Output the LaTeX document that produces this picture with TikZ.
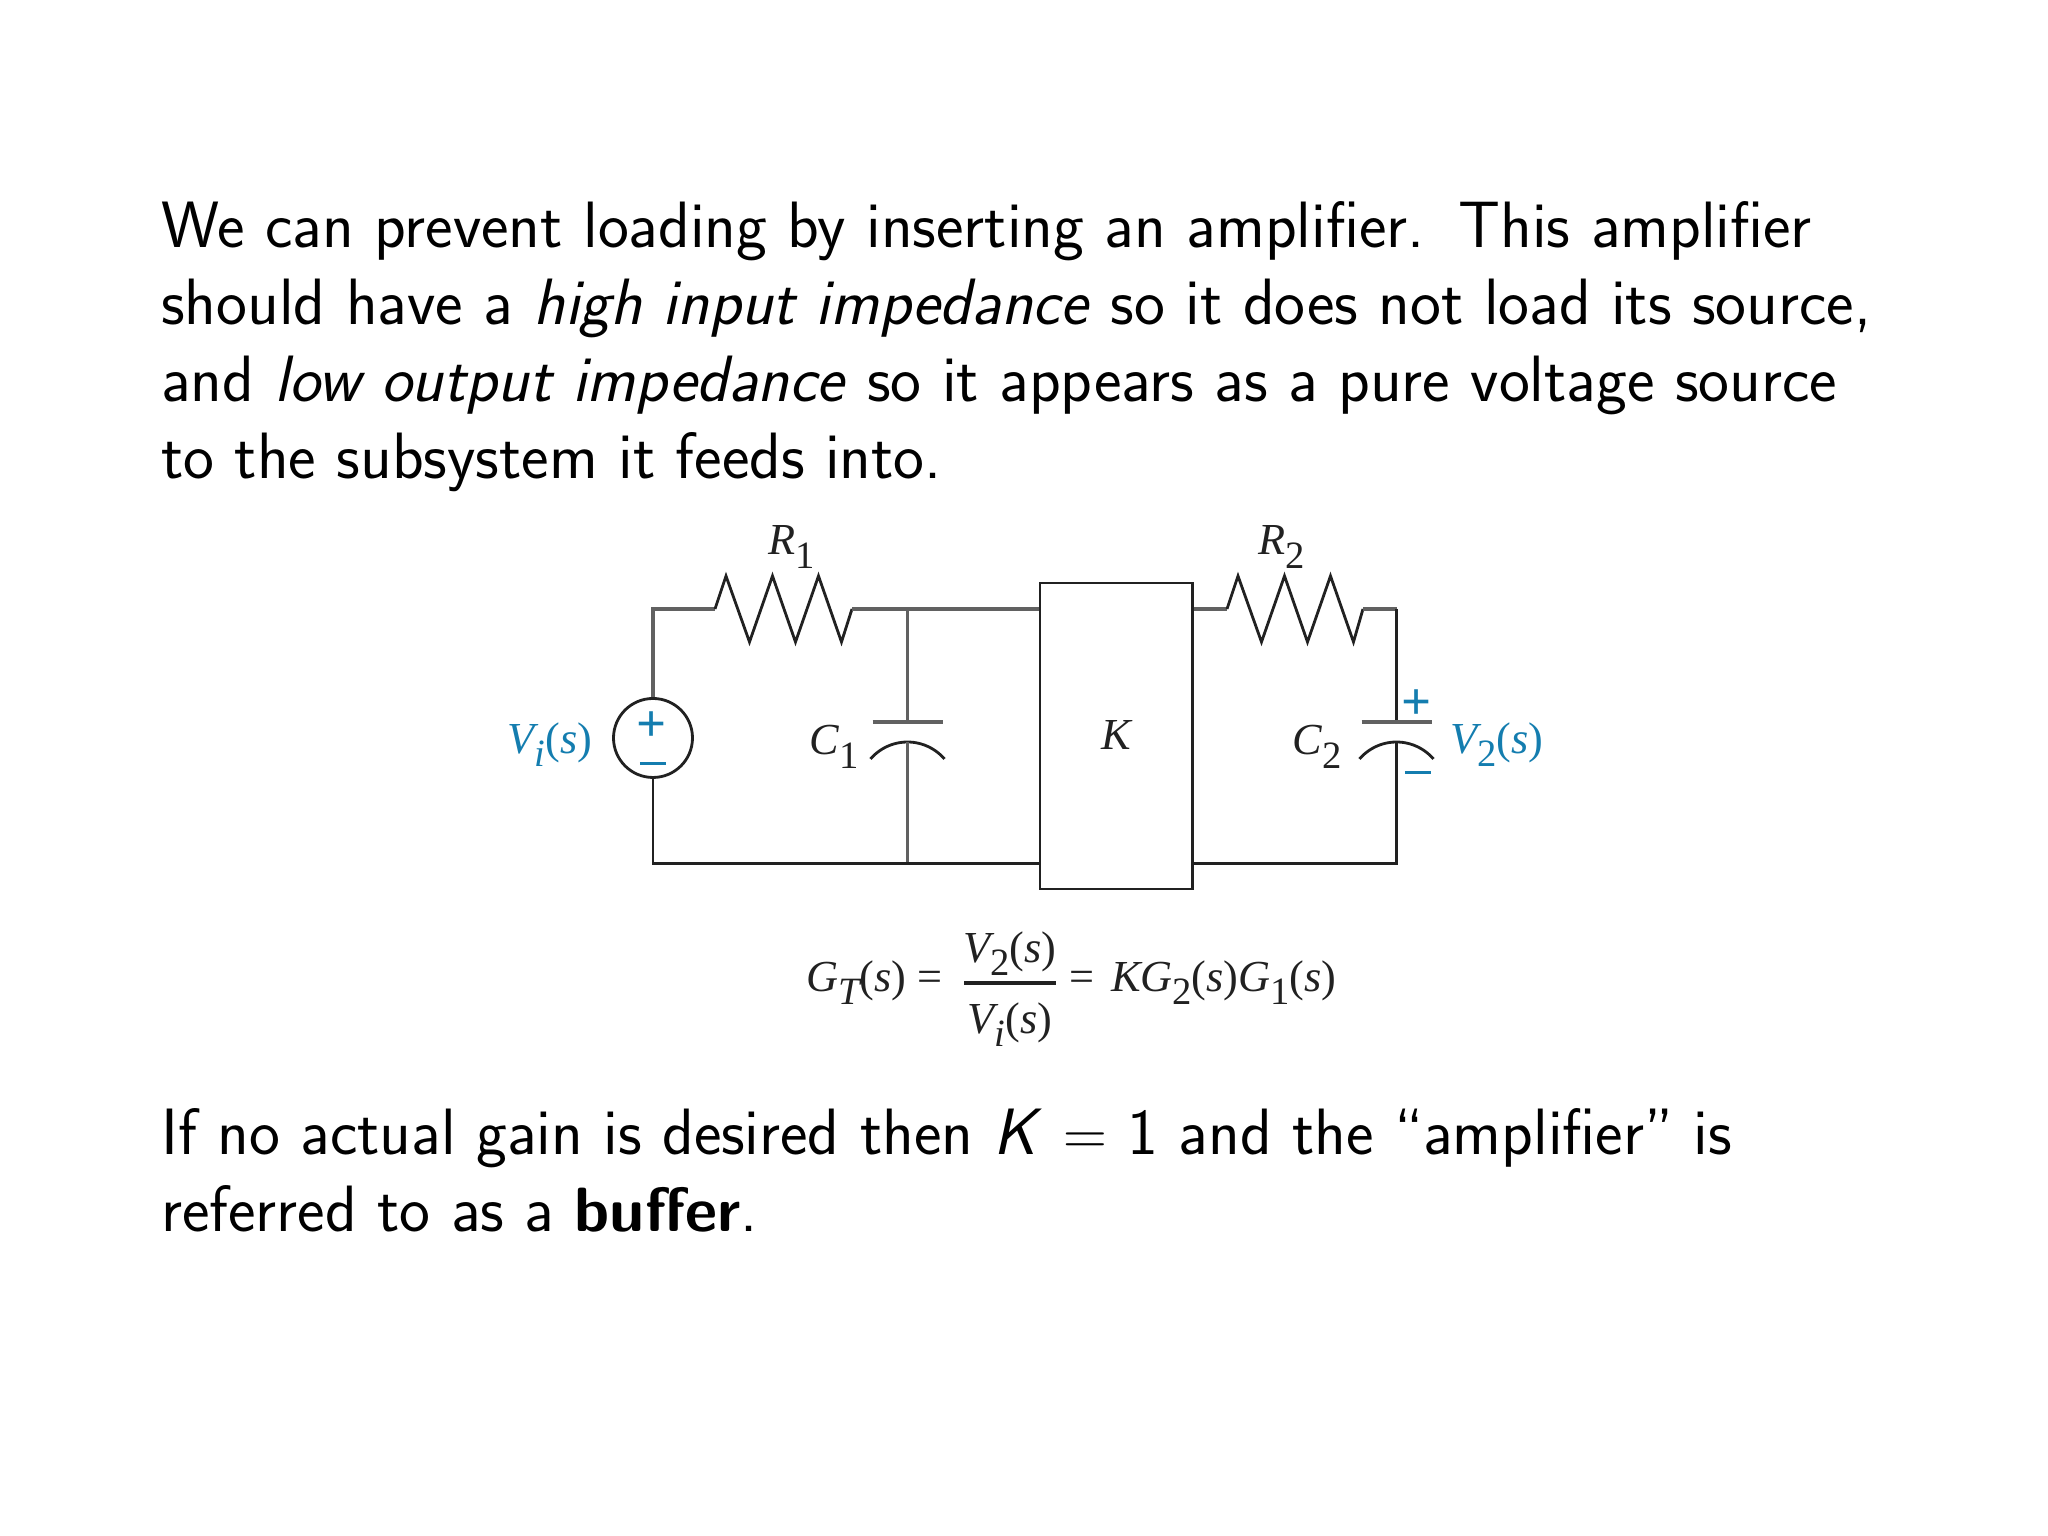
\documentclass[tikz,border=0pt]{standalone}
\usepackage{fontspec}
\newfontfamily\figfont{Liberation Serif}
\definecolor{figblue}{RGB}{20, 125, 175}
\definecolor{figink}{gray}{0.13}
\newcommand{\figit}[1]{{\figfont\itshape #1}}
\newcommand{\figsub}[1]{\raisebox{-0.3em}{\fontsize{11}{11}\selectfont #1}}
\begin{document}
\begin{tikzpicture}[
    slidetext/.style = {anchor = north west, align = left, inner sep = 0, font = \fontsize{18.65}{21.85}\selectfont\sffamily},
    figlabel/.style = {inner sep = 0, text = figink, font = \fontsize{12.6}{14}\selectfont\figfont},
    bluelabel/.style = {figlabel, text = figblue},
    signmark/.style = {inner sep = 0, text = figblue, font = \fontsize{15}{15}\selectfont\figfont\bfseries},
    wiretop/.style = {draw = black!62, line width = 0.9pt},
    wirelow/.style = {draw = figink, line width = 0.8pt}
  ]
  \useasboundingbox (0, 0) rectangle (20.48, 15.36);

  \node [slidetext] (intro) at (1.606, 13.35) {We can prevent loading by inserting an amplifier.\hspace{0.52em}This amplifier\\
    should have a \textit{high input impedance} so it does not load its source,\\
    and \textit{low output impedance} so it appears as a pure voltage source\\
    to the subsystem it feeds into.};

  % circuit
  \node [circle, draw = figink, line width = 0.8pt, minimum size = 0.79cm, inner sep = 0] (source) at (6.53, 7.98) {};
  \node [draw = figink, line width = 0.8pt, minimum width = 1.525cm, minimum height = 3.06cm, inner sep = 0] (gain) at (11.163, 8.0) {};
  \node [figlabel] (gainlabel) at (11.16, 8.01) {\figit{K}};

  \coordinate (topleft) at (6.53, 9.27);
  \coordinate (botleft) at (6.53, 6.727);
  \coordinate (r1in) at (7.15, 9.27);
  \coordinate (r1out) at (8.52, 9.27);
  \coordinate (c1top) at (9.075, 9.27);
  \coordinate (c1plate) at (9.075, 8.14);
  \coordinate (c1arc) at (9.075, 7.94);
  \coordinate (c1bot) at (9.075, 6.727);
  \coordinate (gainintop) at (gain.west |- topleft);
  \coordinate (gaininbot) at (gain.west |- botleft);
  \coordinate (gainouttop) at (gain.east |- topleft);
  \coordinate (gainoutbot) at (gain.east |- botleft);
  \coordinate (r2in) at (12.27, 9.27);
  \coordinate (r2out) at (13.63, 9.27);
  \coordinate (topright) at (13.965, 9.27);
  \coordinate (c2plate) at (13.965, 8.14);
  \coordinate (c2arc) at (13.965, 7.94);
  \coordinate (botright) at (13.965, 6.727);

  \draw [wiretop] (source.north) -- (topleft) -- (r1in);
  \draw [wirelow] (r1in) -- ++(0.11, 0.33) -- ++(0.235, -0.66) -- ++(0.23, 0.66) -- ++(0.23, -0.66) -- ++(0.23, 0.66) -- ++(0.23, -0.66) -- (r1out);
  \draw [wiretop] (r1out) -- (gainintop);
  \draw [wiretop] (c1top) -- (c1plate);
  \draw [wiretop] (c1plate) ++(-0.35, 0) -- ++(0.7, 0);
  \draw [wirelow] (c1arc) ++(-0.37, -0.17) arc (139.3:40.7:0.488);
  \draw [wiretop] (c1arc) -- (c1bot);
  \draw [wirelow] (source.south) -- (botleft) -- (gaininbot);

  \draw [wiretop] (gainouttop) -- (r2in);
  \draw [wirelow] (r2in) -- ++(0.11, 0.33) -- ++(0.235, -0.66) -- ++(0.23, 0.66) -- ++(0.23, -0.66) -- ++(0.23, 0.66) -- ++(0.23, -0.66) -- (r2out);
  \draw [wiretop] (r2out) -- (topright);
  \draw [wirelow] (topright) -- (c2plate);
  \draw [wiretop] (c2plate) ++(-0.35, 0) -- ++(0.7, 0);
  \draw [wirelow] (c2arc) ++(-0.37, -0.17) arc (139.3:40.7:0.488);
  \draw [wirelow] (c2arc) -- (botright) -- (gainoutbot);

  % labels of the circuit
  \node [figlabel] (r1label) at (7.92, 9.89) {\figit{R}\figsub{1}};
  \node [figlabel] (r2label) at (12.82, 9.89) {\figit{R}\figsub{2}};
  \node [figlabel] (c1label) at (8.34, 7.89) {\figit{C}\figsub{1}};
  \node [figlabel] (c2label) at (13.17, 7.89) {\figit{C}\figsub{2}};
  \node [bluelabel] (vilabel) at (5.50, 7.91) {\figit{V}\figsub{\figit{i}}(\figit{s})};
  \node [bluelabel] (v2label) at (14.97, 7.91) {\figit{V}\figsub{2}(\figit{s})};
  \node [signmark] (plus1) at (6.52, 8.09) {+};
  \node [signmark] (minus1) at (6.53, 7.70) {\rule[0.1em]{0.5em}{0.8pt}};
  \node [signmark] (plus2) at (14.17, 8.31) {+};
  \node [signmark] (minus2) at (14.18, 7.61) {\rule[0.1em]{0.5em}{0.8pt}};

  % transfer function
  \node [figlabel, anchor = east] (lhs) at (9.43, 5.53) {\figit{G}\figsub{\figit{T}}(\figit{s}) =};
  \node [figlabel] (numer) at (10.10, 5.82) {\figit{V}\figsub{2}(\figit{s})};
  \node [figlabel] (denom) at (10.10, 5.11) {\figit{V}\figsub{\figit{i}}(\figit{s})};
  \node [figlabel, anchor = west] (rhs) at (10.69, 5.53) {=\hspace{1.5pt} \figit{KG}\figsub{2}(\figit{s})\figit{G}\figsub{1}(\figit{s})};
  \draw [figink, line width = 1pt] (9.64, 5.53) -- (10.555, 5.53);

  \node [slidetext] (outro) at (1.606, 4.28) {If no actual gain is desired then \textit{K} $=$ 1 and the ``amplifier'' is\\
    referred to as a {\fontsize{17.8}{21.85}\selectfont\textbf{buffer}}.};
\end{tikzpicture}
\end{document}
